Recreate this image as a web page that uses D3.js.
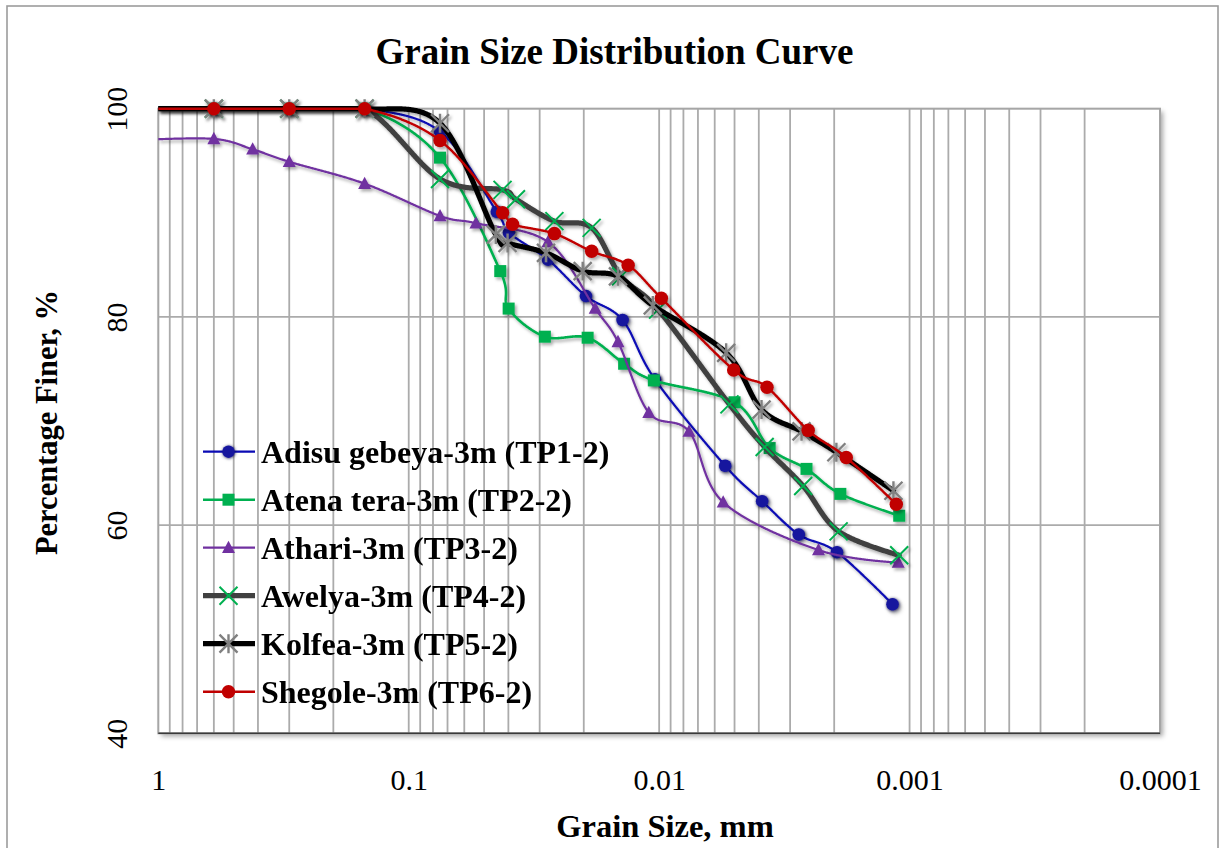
<!DOCTYPE html>
<html>
<head>
<meta charset="utf-8">
<script src="https://cdn.jsdelivr.net/npm/d3@7"></script>
<style>
  html, body { margin: 0; padding: 0; background: #fff; }
  svg { display: block; }
  text { font-family: "Liberation Serif", "Times New Roman", Times, serif; fill: #000; }
</style>
</head>
<body>
<svg id="chart" width="1220" height="848"></svg>
<script>
// ---- Data: grain size (mm) and percentage finer (%) for each test pit ----
const adisuSize = [1.18, 0.6, 0.3, 0.15, 0.075, 0.0445, 0.0398, 0.0278, 0.0196, 0.0140, 0.0104, 0.00545, 0.00388, 0.00277, 0.00195, 0.00117];
const adisuPct  = [100, 100, 100, 100, 97.8, 90.1, 88.1, 85.5, 82.0, 79.7, 74.0, 65.7, 62.3, 59.1, 57.4, 52.4];

const atenaSize = [1.18, 0.6, 0.3, 0.15, 0.075, 0.0431, 0.0399, 0.0286, 0.0193, 0.0138, 0.0105, 0.0050, 0.00362, 0.00258, 0.00189, 0.0011];
const atenaPct  = [100, 100, 100, 100, 95.3, 84.4, 80.8, 78.1, 78.0, 75.5, 73.9, 71.8, 67.4, 65.4, 63.0, 60.9];

const athariSize = [1.18, 0.6, 0.42, 0.3, 0.15, 0.075, 0.0539, 0.0278, 0.0180, 0.0146, 0.0110, 0.0076, 0.00555, 0.00231, 0.00111];
const athariPct  = [97.0, 97.1, 96.1, 94.9, 92.8, 89.7, 89.0, 87.2, 80.8, 77.6, 70.8, 69.0, 62.2, 57.6, 56.4];

const awelyaSize = [1.18, 0.6, 0.3, 0.15, 0.075, 0.0422, 0.0373, 0.0262, 0.0186, 0.0142, 0.0101, 0.00524, 0.00379, 0.00266, 0.00192, 0.0011];
const awelyaPct  = [100, 100, 100, 100, 93.25, 92.2, 91.3, 89.2, 88.55, 83.9, 80.7, 71.6, 67.5, 63.75, 59.4, 57.1];

const kolfeaSize = [1.18, 0.6, 0.3, 0.15, 0.075, 0.0449, 0.0403, 0.0283, 0.0202, 0.0146, 0.0106, 0.0054, 0.0039, 0.0027, 0.00196, 0.00116];
const kolfeaPct  = [100, 100, 100, 100, 98.6, 87.9, 87.1, 86.15, 84.4, 83.9, 81.1, 76.55, 71.1, 69.0, 67.0, 63.3];

const shegoleSize = [1.18, 0.6, 0.3, 0.15, 0.075, 0.0422, 0.0385, 0.0262, 0.0186, 0.0133, 0.0098, 0.00504, 0.00371, 0.00254, 0.00179, 0.00113];
const shegolePct  = [100, 100, 100, 100, 96.95, 90.0, 88.9, 88.0, 86.3, 84.96, 81.8, 74.9, 73.25, 69.1, 66.5, 62.0];

const seriesNames = [
  "Adisu gebeya-3m (TP1-2)",
  "Atena tera-3m (TP2-2)",
  "Athari-3m (TP3-2)",
  "Awelya-3m (TP4-2)",
  "Kolfea-3m (TP5-2)",
  "Shegole-3m (TP6-2)"
];

const xTickValues = [1, 0.1, 0.01, 0.001, 0.0001];
const xTickLabels = ["1", "0.1", "0.01", "0.001", "0.0001"];
const yTickValues = [40, 60, 80, 100];

const chartTitle = "Grain Size Distribution Curve";
const xAxisTitle = "Grain Size, mm";
const yAxisTitle = "Percentage Finer, %";

// ---- Styles per series ----
const styles = [
  { line: "#0A0AB4", width: 2.2, marker: "circle",   fill: "#14149E", stroke: "none",    size: 12.5, glow: true },
  { line: "#00B050", width: 2.6, marker: "square",   fill: "#00B050", stroke: "none",    size: 12 },
  { line: "#7030A0", width: 2.2, marker: "triangle", fill: "#7030A0", stroke: "none",    size: 13 },
  { line: "#404040", width: 5.2, marker: "x",        fill: "none",    stroke: "#00B050", size: 18 },
  { line: "#000000", width: 5.2, marker: "star",     fill: "none",    stroke: "#808080", size: 18 },
  { line: "#C00000", width: 2.4, marker: "circle",   fill: "#C00000", stroke: "none",    size: 13.5 }
];

const seriesData = [
  [adisuSize, adisuPct],
  [atenaSize, atenaPct],
  [athariSize, athariPct],
  [awelyaSize, awelyaPct],
  [kolfeaSize, kolfeaPct],
  [shegoleSize, shegolePct]
].map(([s, p], i) => ({
  name: seriesNames[i],
  style: styles[i],
  points: s.map((d, j) => ({ d, p: p[j] }))
}));

// ---- Layout ----
const svg = d3.select("#chart");
const W = 1220, H = 848;
const plot = { left: 158.3, right: 1160, top: 108.7, bottom: 733.3 };

const x = d3.scaleLog().domain([1, 1e-4]).range([plot.left, plot.right]);
const y = d3.scaleLinear().domain([40, 100]).range([plot.bottom, plot.top]);

const defs = svg.append("defs");
const shadow = defs.append("filter").attr("id", "shadow")
  .attr("x", "-10%").attr("y", "-10%").attr("width", "130%").attr("height", "130%");
shadow.append("feDropShadow").attr("dx", 2).attr("dy", 2.5).attr("stdDeviation", 1.6)
  .attr("flood-color", "#000").attr("flood-opacity", 0.32);

const glow = defs.append("filter").attr("id", "glow")
  .attr("x", "-50%").attr("y", "-50%").attr("width", "200%").attr("height", "200%");
glow.append("feDropShadow").attr("dx", 0.5).attr("dy", 0.5).attr("stdDeviation", 1.6)
  .attr("flood-color", "#00003A").attr("flood-opacity", 0.85);

const frameShadow = defs.append("filter").attr("id", "frameShadow")
  .attr("x", "-5%").attr("y", "-5%").attr("width", "110%").attr("height", "110%");
frameShadow.append("feDropShadow").attr("dx", 3).attr("dy", 3).attr("stdDeviation", 2.5)
  .attr("flood-color", "#000").attr("flood-opacity", 0.35);

// Horizontal clip at the plot edges; vertical room so stroke width is kept at 100 %
defs.append("clipPath").attr("id", "plotClip")
  .append("rect")
  .attr("x", plot.left).attr("y", plot.top - 8)
  .attr("width", plot.right - plot.left)
  .attr("height", plot.bottom - plot.top + 16);

// Chart background and outer border
svg.append("rect").attr("x", 0).attr("y", 0).attr("width", W).attr("height", H).attr("fill", "#fff");
svg.append("rect")
  .attr("x", 7).attr("y", 6).attr("width", 1211).attr("height", 870)
  .attr("fill", "#fff").attr("stroke", "#9C9C9C").attr("stroke-width", 1.6);

// Plot area with soft shadow
svg.append("rect")
  .attr("x", plot.left).attr("y", plot.top)
  .attr("width", plot.right - plot.left).attr("height", plot.bottom - plot.top)
  .attr("fill", "#fff").attr("filter", "url(#frameShadow)");

// Grid lines
const grid = svg.append("g");
grid.selectAll("line.v")
  .data(x.ticks().filter(v => v < 1 && v > 1e-4))
  .join("line")
  .attr("x1", d => x(d)).attr("x2", d => x(d))
  .attr("y1", plot.top).attr("y2", plot.bottom)
  .attr("stroke", "#ABABAB").attr("stroke-width", 1.8);
grid.selectAll("line.h")
  .data(yTickValues.filter(v => v > 40 && v < 100))
  .join("line")
  .attr("x1", plot.left).attr("x2", plot.right)
  .attr("y1", d => y(d)).attr("y2", d => y(d))
  .attr("stroke", "#ABABAB").attr("stroke-width", 1.8);

// Plot border
svg.append("rect")
  .attr("x", plot.left).attr("y", plot.top)
  .attr("width", plot.right - plot.left).attr("height", plot.bottom - plot.top)
  .attr("fill", "none").attr("stroke", "#A6A6A6").attr("stroke-width", 2);
svg.append("line")
  .attr("x1", plot.left).attr("x2", plot.right)
  .attr("y1", plot.bottom).attr("y2", plot.bottom)
  .attr("stroke", "#3A3A3A").attr("stroke-width", 1.6);

// ---- Axes ----
const xAxis = svg.append("g")
  .attr("transform", `translate(0,${plot.bottom})`)
  .call(d3.axisBottom(x).tickValues(xTickValues).tickFormat((d, i) => xTickLabels[i]).tickSize(0));
xAxis.select(".domain").remove();
xAxis.selectAll("text")
  .attr("y", 57).attr("dy", null)
  .attr("font-size", 30).attr("font-family", "Liberation Serif, Times New Roman, serif")
  .attr("fill", "#000");

const yAxis = svg.append("g")
  .attr("transform", `translate(${plot.left},0)`)
  .call(d3.axisLeft(y).tickValues(yTickValues).tickFormat(d3.format("d")).tickSize(0));
yAxis.select(".domain").remove();
yAxis.selectAll("text")
  .attr("x", null).attr("dy", null)
  .attr("text-anchor", "middle")
  .attr("transform", "translate(-31.5,0) rotate(-90)")
  .attr("font-size", 30).attr("font-family", "Liberation Serif, Times New Roman, serif")
  .attr("fill", "#000");

// ---- Titles ----
svg.append("text")
  .attr("x", 614.5).attr("y", 64)
  .attr("text-anchor", "middle").attr("font-weight", "bold").attr("font-size", 37)
  .text(chartTitle);
svg.append("text")
  .attr("x", 665).attr("y", 837)
  .attr("text-anchor", "middle").attr("font-weight", "bold").attr("font-size", 32.5)
  .text(xAxisTitle);
svg.append("text")
  .attr("transform", "translate(57,422.5) rotate(-90)")
  .attr("text-anchor", "middle").attr("font-weight", "bold").attr("font-size", 30.5)
  .text(yAxisTitle);

// ---- Marker drawing ----
function drawMarker(g, st, cx, cy) {
  const s = st.size;
  let el;
  if (st.marker === "circle") {
    el = g.append("circle").attr("cx", cx).attr("cy", cy).attr("r", s / 2).attr("fill", st.fill);
  } else if (st.marker === "square") {
    el = g.append("rect").attr("x", cx - s / 2).attr("y", cy - s / 2)
      .attr("width", s).attr("height", s).attr("fill", st.fill);
  } else if (st.marker === "triangle") {
    const h = s * 0.9;
    el = g.append("path")
      .attr("d", `M${cx},${cy - h * 0.6}L${cx + s / 2},${cy + h * 0.45}L${cx - s / 2},${cy + h * 0.45}Z`)
      .attr("fill", st.fill);
  } else if (st.marker === "x") {
    const r = s / 2;
    el = g.append("path")
      .attr("d", `M${cx - r},${cy - r}L${cx + r},${cy + r}M${cx - r},${cy + r}L${cx + r},${cy - r}`)
      .attr("stroke", st.stroke).attr("stroke-width", 2).attr("fill", "none");
  } else if (st.marker === "star") {
    const r = s / 2;
    el = g.append("path")
      .attr("d", `M${cx - r},${cy - r}L${cx + r},${cy + r}M${cx - r},${cy + r}L${cx + r},${cy - r}M${cx},${cy - r * 1.05}L${cx},${cy + r * 1.05}`)
      .attr("stroke", st.stroke).attr("stroke-width", 2.4).attr("fill", "none");
  }
  if (st.glow && el) el.attr("filter", "url(#glow)");
  return el;
}

// ---- Series ----
// Smoothed curve through the points; the curve is sampled and held at the
// 100 % ceiling so the smoothing does not rise above the axis maximum.
const smooth = d3.line()
  .x(d => x(d.d))
  .y(d => y(d.p))
  .curve(d3.curveCatmullRom.alpha(0));
const polyline = d3.line().x(d => d[0]).y(d => d[1]);
const yCeil = y(100);

function cappedPath(points) {
  const tmp = svg.append("path").attr("d", smooth(points)).attr("fill", "none");
  const node = tmp.node();
  const len = node.getTotalLength();
  const pts = [];
  for (let l = 0; l <= len; l += 0.75) {
    const p = node.getPointAtLength(l);
    pts.push([p.x, Math.max(p.y, yCeil)]);
  }
  const end = node.getPointAtLength(len);
  pts.push([end.x, Math.max(end.y, yCeil)]);
  tmp.remove();
  return polyline(pts);
}

const seriesLayer = svg.append("g");
seriesData.forEach(s => {
  const g = seriesLayer.append("g").attr("filter", "url(#shadow)");
  g.append("g").attr("clip-path", "url(#plotClip)")
    .append("path")
    .attr("d", cappedPath(s.points))
    .attr("fill", "none")
    .attr("stroke", s.style.line)
    .attr("stroke-width", s.style.width)
    .attr("stroke-linejoin", "round")
    .attr("stroke-linecap", "round");
  const mg = g.append("g");
  s.points.filter(p => p.d <= 1).forEach(p => drawMarker(mg, s.style, x(p.d), y(p.p)));
});

// ---- Legend ----
const legend = svg.append("g");
const legendTop = 451.7, legendStep = 48;
seriesData.forEach((s, i) => {
  const cy = legendTop + i * legendStep;
  const g = legend.append("g");
  g.append("line")
    .attr("x1", 203).attr("x2", 255)
    .attr("y1", cy).attr("y2", cy)
    .attr("stroke", s.style.line).attr("stroke-width", s.style.width);
  drawMarker(g, s.style, 228.5, cy);
  g.append("text")
    .attr("x", 261).attr("y", cy + 11.6)
    .attr("font-weight", "bold").attr("font-size", 32)
    .text(s.name);
});
</script>
</body>
</html>
